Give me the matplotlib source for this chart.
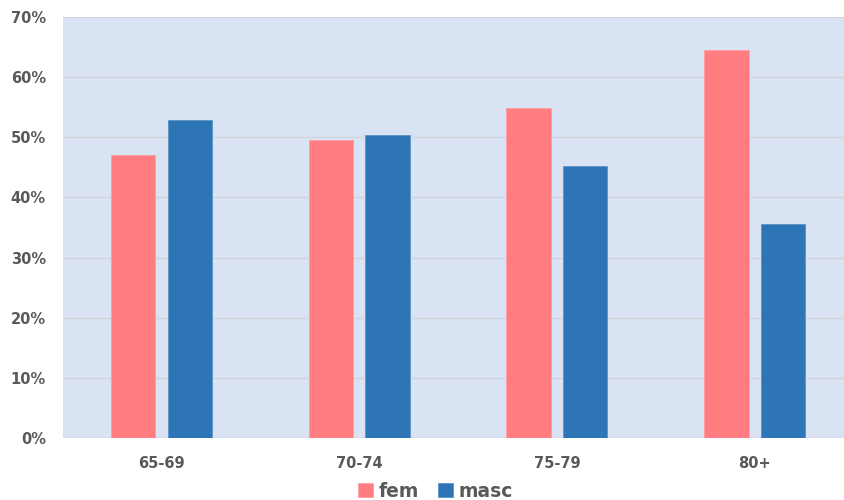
import numpy as np
import matplotlib.pyplot as plt
from matplotlib.ticker import PercentFormatter

# age groups and share of each sex within the group
age_groups = ["65-69", "70-74", "75-79", "80+"]
fem = [47.1, 49.6, 54.8, 64.5]
masc = [52.9, 50.4, 45.2, 35.5]

fem_color = "#FF7C80"
masc_color = "#2E75B6"
text_color = "#595959"

plt.rcParams["font.family"] = ["DejaVu Sans"]

fig = plt.figure(figsize=(8.45, 5.0), dpi=100)
ax = fig.add_axes([0.0741, 0.124, 0.936, 0.842])
ax.set_facecolor("#DAE3F3")

x = np.arange(len(age_groups))
width = 0.225
offset = 0.143
ax.bar(x - offset, fem, width, color=fem_color, edgecolor="#FF9EA1", linewidth=0.6,
       label="fem", zorder=3)
ax.bar(x + offset, masc, width, color=masc_color, edgecolor="#5B93C8", linewidth=0.6,
       label="masc", zorder=3)

ax.set_xlim(-0.5, len(age_groups) - 0.5)
ax.set_ylim(0, 70)
ax.set_yticks(range(0, 71, 10))
ax.yaxis.set_major_formatter(PercentFormatter(decimals=0))
ax.set_xticks(x)
ax.set_xticklabels(age_groups)
ax.grid(axis="y", color="#D0D4DC", linewidth=1.0, zorder=1)

for spine in ax.spines.values():
    spine.set_visible(False)
ax.axhline(0, color="#D0D4DC", linewidth=1.0, zorder=2)
ax.tick_params(length=0, colors=text_color, labelsize=10.5)
ax.tick_params(axis="x", pad=13)
ax.tick_params(axis="y", pad=12)
for lbl in ax.get_xticklabels() + ax.get_yticklabels():
    lbl.set_fontweight("bold")
    lbl.set_color(text_color)

leg = fig.legend(loc="lower center", bbox_to_anchor=(0.515, -0.035), ncol=2, frameon=False,
                 handlelength=0.8, handleheight=0.8, handletextpad=0.3, columnspacing=1.0,
                 prop={"weight": "bold", "size": 13.5})
for t in leg.get_texts():
    t.set_color(text_color)

fig.savefig("out.png", dpi=100)
